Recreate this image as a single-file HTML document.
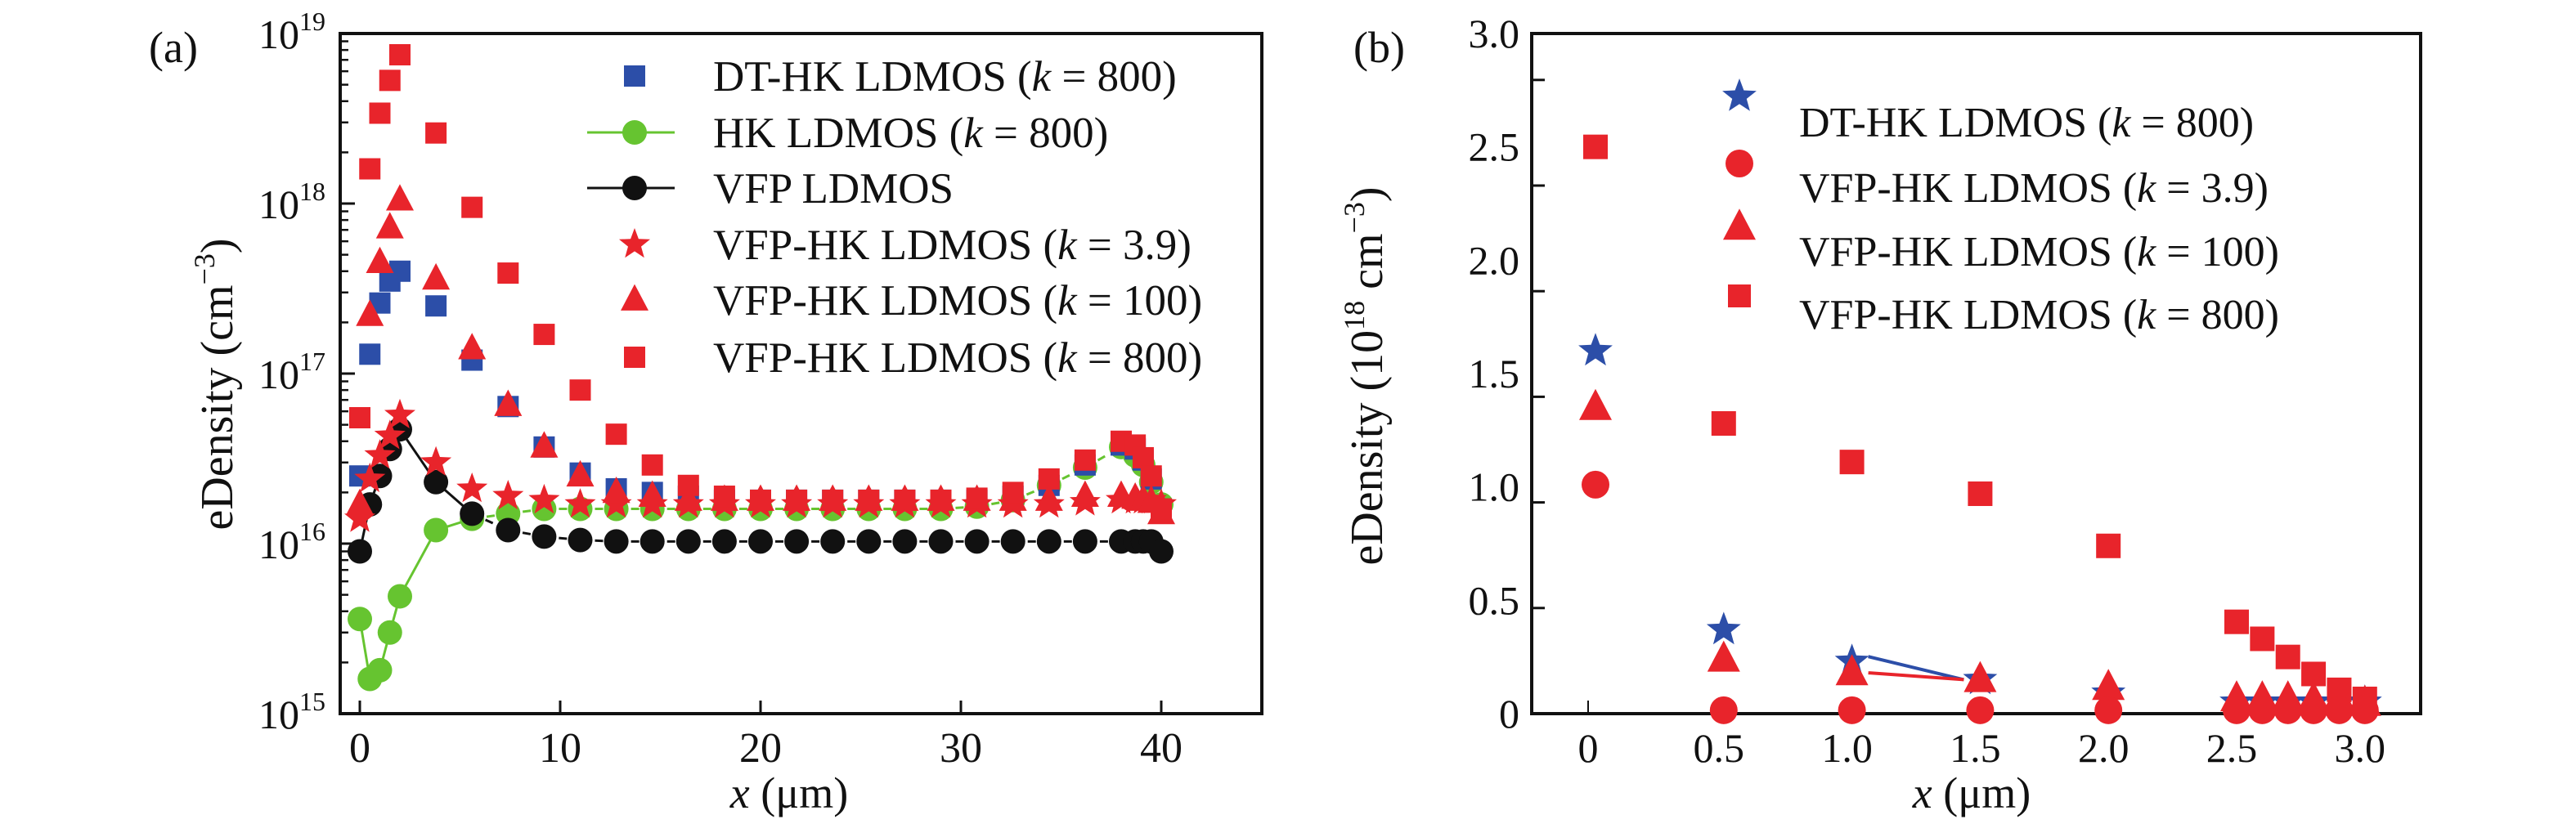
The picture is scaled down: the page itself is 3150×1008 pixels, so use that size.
<!DOCTYPE html>
<html><head><meta charset="utf-8"><style>
html,body{margin:0;padding:0;background:#fff;}
svg{display:block;font-family:"Liberation Serif",serif;}
</style></head><body>
<svg id="fig" width="3150" height="1008" viewBox="0 0 3150 1008" xmlns="http://www.w3.org/2000/svg">
<g id="pa"></g>
<g id="pb"></g>
</svg>
<script>
// ---------- Panel (a) data ----------
const aX = [0,0.5,1,1.5,2,3.8,5.6,7.4,9.2,11,12.8,14.6,16.4,18.2,20,21.8,23.6,25.4,27.2,29,30.8,32.6,34.4,36.2,38,38.7,39.1,39.5,40];
const aDT = [2.5e16,1.3e17,2.6e17,3.5e17,4.0e17,2.5e17,1.2e17,6.4e16,3.7e16,2.6e16,2.1e16,2.0e16,1.9e16,1.8e16,1.8e16,1.8e16,1.8e16,1.8e16,1.8e16,1.8e16,1.8e16,1.9e16,2.2e16,2.9e16,3.8e16,3.6e16,3.1e16,2.4e16,1.6e16];
const aHK = [3.6e15,1.6e15,1.8e15,3.0e15,4.9e15,1.2e16,1.4e16,1.5e16,1.6e16,1.6e16,1.6e16,1.6e16,1.6e16,1.6e16,1.6e16,1.6e16,1.6e16,1.6e16,1.6e16,1.6e16,1.65e16,1.8e16,2.2e16,2.8e16,3.7e16,3.3e16,2.9e16,2.3e16,1.7e16];
const aVFP = [9e15,1.7e16,2.5e16,3.6e16,4.7e16,2.3e16,1.5e16,1.2e16,1.1e16,1.05e16,1.03e16,1.03e16,1.03e16,1.03e16,1.03e16,1.03e16,1.03e16,1.03e16,1.03e16,1.03e16,1.03e16,1.03e16,1.03e16,1.03e16,1.03e16,1.03e16,1.03e16,1.03e16,9e15];
const aK39 = [1.4e16,2.4e16,3.3e16,4.3e16,5.7e16,3.0e16,2.1e16,1.9e16,1.8e16,1.7e16,1.7e16,1.7e16,1.7e16,1.7e16,1.7e16,1.7e16,1.7e16,1.7e16,1.7e16,1.7e16,1.7e16,1.7e16,1.7e16,1.75e16,1.8e16,1.8e16,1.8e16,1.8e16,1.7e16];
const aK100 = [1.7e16,2.2e17,4.5e17,7.2e17,1.05e18,3.6e17,1.4e17,6.5e16,3.7e16,2.5e16,2.0e16,1.9e16,1.8e16,1.8e16,1.8e16,1.8e16,1.8e16,1.8e16,1.8e16,1.8e16,1.8e16,1.8e16,1.8e16,1.9e16,1.9e16,1.85e16,1.8e16,1.75e16,1.5e16];
const aK800 = [5.5e16,1.6e18,3.4e18,5.3e18,7.5e18,2.6e18,9.5e17,3.9e17,1.7e17,8e16,4.4e16,2.9e16,2.2e16,1.9e16,1.8e16,1.8e16,1.8e16,1.8e16,1.8e16,1.8e16,1.85e16,2.0e16,2.4e16,3.1e16,4.0e16,3.8e16,3.2e16,2.5e16,1.6e16];
const aXTicks = [0,10,20,30,40];
const aYExp = [15,16,17,18,19];
// ---------- Panel (b) data ----------
const bX = [0,0.5,1.0,1.5,2.0,2.5,2.6,2.7,2.8,2.9,3.0];
const bDT = [1.60,0.37,0.23,0.15,0.09,0.05,0.05,0.05,0.05,0.05,0.05];
const bK39 = [1.01,0.015,0.015,0.015,0.015,0.015,0.015,0.015,0.015,0.015,0.015];
const bK100 = [1.35,0.24,0.18,0.15,0.115,0.065,0.065,0.065,0.06,0.05,0.045];
const bK800 = [2.5,1.28,1.11,0.97,0.74,0.405,0.33,0.25,0.175,0.105,0.065];
const bXTicks = ["0","0.5","1.0","1.5","2.0","2.5","3.0"];
const bYTicks = ["0","0.5","1.0","1.5","2.0","2.5","3.0"];

const NS="http://www.w3.org/2000/svg";
const RED="#e8242b", BLUE="#2c4ea8", GREEN="#66c430", BLACK="#111";
function mk(parent,tag,attrs,txt){const e=document.createElementNS(NS,tag);for(const k in attrs)e.setAttribute(k,attrs[k]);if(txt!==undefined)e.textContent=txt;parent.appendChild(e);return e;}
function marker(g,type,x,y,color,s){
  let e;
  if(type==='sq'){e=mk(g,'rect',{x:x-s/2,y:y-s/2,width:s,height:s,fill:color});}
  else if(type==='ci'){e=mk(g,'circle',{cx:x,cy:y,r:s/2,fill:color});}
  else if(type==='tri'){const h=s*0.95;e=mk(g,'polygon',{points:`${x},${y-h*0.6} ${x-s/2},${y+h*0.4} ${x+s/2},${y+h*0.4}`,fill:color});}
  else {let p=[];for(let i=0;i<10;i++){const r=i%2?s*0.21:s/2;const a=-Math.PI/2+i*Math.PI/5;p.push((x+r*Math.cos(a)).toFixed(1)+','+(y+r*Math.sin(a)).toFixed(1));}e=mk(g,'polygon',{points:p.join(' '),fill:color});}
  return e;
}

// ===== Panel A =====
const A=document.getElementById('pa');
const aL=416,aR=1543,aT=41,aB=873;
const ax=v=>440+v*24.5;
const ay=v=>aB-(Math.log10(v)-15)*(aB-aT)/4;
mk(A,'rect',{x:aL,y:aT,width:aR-aL,height:aB-aT,fill:'none',stroke:'#111','stroke-width':4});
aXTicks.forEach(t=>{
  mk(A,'line',{x1:ax(t),x2:ax(t),y1:aB,y2:aB-16,stroke:'#111','stroke-width':3});
  const tx=mk(A,'text',{x:ax(t),y:932,'font-size':52,'text-anchor':'middle',fill:'#111'},t);
  
  
});
aYExp.forEach((e,i)=>{
  const y=ay(Math.pow(10,e));
  mk(A,'line',{x1:aL,x2:aL+18,y1:y,y2:y,stroke:'#111','stroke-width':3});
  const tx=mk(A,'text',{x:398,y:y+18,'font-size':50,'text-anchor':'end',fill:'#111'});
  
  
  tx.appendChild(document.createTextNode('10'));
  mk(tx,'tspan',{'font-size':32,dy:-22},String(e));
  if(i<4){for(let m=2;m<=9;m++){const yy=ay(m*Math.pow(10,e));mk(A,'line',{x1:aL,x2:aL+10,y1:yy,y2:yy,stroke:'#111','stroke-width':2.5});}}
});
// axis titles
let t=mk(A,'text',{x:0,y:0,'font-size':56,'text-anchor':'middle',fill:'#111',transform:'translate(284,470) rotate(-90)'});

t.appendChild(document.createTextNode('eDensity (cm'));mk(t,'tspan',{'font-size':36,dy:-22},'−3');mk(t,'tspan',{dy:22},')');
t=mk(A,'text',{x:965,y:988,'font-size':54,'text-anchor':'middle',fill:'#111'});

mk(t,'tspan',{'font-style':'italic'},'x');t.appendChild(document.createTextNode(' (μm)'));
t=mk(A,'text',{x:182,y:76,'font-size':54,fill:'#111'},'(a)');


function lineA(vals,color,dashFrom,name){
  const g=mk(A,'g',{});
  for(let i=0;i<vals.length-1;i++){
    const l=mk(g,'line',{x1:ax(aX[i]),y1:ay(vals[i]),x2:ax(aX[i+1]),y2:ay(vals[i+1]),stroke:color,'stroke-width':3});
    if(i>=dashFrom)l.setAttribute('stroke-dasharray','10 8');
  }
}
function seriesA(vals,type,color,size,name){
  const g=mk(A,'g',{});
  vals.forEach((v,i)=>{const m=marker(g,type,ax(aX[i]),ay(v),color,size);
    
    });
}
lineA(aHK,GREEN,6,'hk-line');
lineA(aVFP,BLACK,6,'vfp-line');
seriesA(aHK,'ci',GREEN,30,'hk-series');
seriesA(aVFP,'ci',BLACK,30,'vfp-series');
seriesA(aDT,'sq',BLUE,26,'dt-hk-series');
seriesA(aK39,'star',RED,40,'vfp-hk-k3.9-series');
seriesA(aK100,'tri',RED,34,'vfp-hk-k100-series');
seriesA(aK800,'sq',RED,26,'vfp-hk-k800-series');
// legend a
const legA=[['sq',BLUE,false,'DT-HK LDMOS (',' = 800)'],['ci',GREEN,true,'HK LDMOS (',' = 800)'],['ci',BLACK,true,'VFP LDMOS',null],['star',RED,false,'VFP-HK LDMOS (',' = 3.9)'],['tri',RED,false,'VFP-HK LDMOS (',' = 100)'],['sq',RED,false,'VFP-HK LDMOS (',' = 800)']];
const legAY=[93,162,230,299,367,437];
const lg=mk(A,'g',{});
legA.forEach((r,i)=>{
  const y=legAY[i];
  const e=mk(lg,'g',{});
  if(r[2])mk(e,'line',{x1:718,x2:825,y1:y,y2:y,stroke:r[1],'stroke-width':3});
  marker(e,r[0],776,y,r[1],r[0]==='sq'?26:(r[0]==='star'?40:(r[0]==='tri'?34:30)));
  const tx=mk(e,'text',{x:872,y:y+18,'font-size':53,fill:'#111'});
  tx.appendChild(document.createTextNode(r[3]));
  if(r[4]){mk(tx,'tspan',{'font-style':'italic'},'k');tx.appendChild(document.createTextNode(r[4]));}
});

// ===== Panel B =====
const B=document.getElementById('pb');
const bL=1873,bR=2960,bT=41,bB=873;
const bx=v=>1951+v*313.6;
const by=v=>bB-v*(bB-bT)/3;
mk(B,'rect',{x:bL,y:bT,width:bR-bL,height:bB-bT,fill:'none',stroke:'#111','stroke-width':4});
bXTicks.forEach((s,i)=>{
  const v=parseFloat(s);
  if(i===0)mk(B,'line',{x1:1942,x2:1942,y1:bB,y2:bB-16,stroke:'#111','stroke-width':2});
  const tx=mk(B,'text',{x:i===0?1942:bx(v)-6,y:932,'font-size':50,'text-anchor':'middle',fill:'#111'},s);
  
  
});
for(let k=1;k<=6;k++){const y=bB-k*129.2;mk(B,'line',{x1:bL,x2:bL+16,y1:y,y2:y,stroke:'#111','stroke-width':3});}
bYTicks.forEach(s=>{
  const tx=mk(B,'text',{x:1858,y:by(parseFloat(s))+17,'font-size':50,'text-anchor':'end',fill:'#111'},s);
  
  
});
t=mk(B,'text',{x:0,y:0,'font-size':56,'text-anchor':'middle',fill:'#111',transform:'translate(1690,460) rotate(-90)'});

t.appendChild(document.createTextNode('eDensity (10'));mk(t,'tspan',{'font-size':36,dy:-22},'18');mk(t,'tspan',{dy:22},' cm');mk(t,'tspan',{'font-size':36,dy:-22},'−3');mk(t,'tspan',{dy:22},')');
t=mk(B,'text',{x:2411,y:988,'font-size':54,'text-anchor':'middle',fill:'#111'});

mk(t,'tspan',{'font-style':'italic'},'x');t.appendChild(document.createTextNode(' (μm)'));
t=mk(B,'text',{x:1655,y:76,'font-size':54,fill:'#111'},'(b)');


mk(B,'line',{x1:bx(1.0)+20,y1:by(bDT[2])-6,x2:bx(1.5)-20,y2:by(bDT[3]),stroke:BLUE,'stroke-width':4});
mk(B,'line',{x1:bx(1.0)+20,y1:by(bK100[2]),x2:bx(1.5)-20,y2:by(bK100[3]),stroke:RED,'stroke-width':4});
function seriesB(vals,type,color,size,name){
  const g=mk(B,'g',{});
  vals.forEach((v,i)=>{const m=marker(g,type,bx(bX[i]),by(v),color,size);
    
    });
}
seriesB(bDT,'star',BLUE,44,'b-dt-hk-series');
seriesB(bK800,'sq',RED,30,'b-vfp-hk-k800-series');
seriesB(bK100,'tri',RED,40,'b-vfp-hk-k100-series');
seriesB(bK39,'ci',RED,34,'b-vfp-hk-k3.9-series');
const legB=[['star',BLUE,'DT-HK LDMOS (',' = 800)'],['ci',RED,'VFP-HK LDMOS (',' = 3.9)'],['tri',RED,'VFP-HK LDMOS (',' = 100)'],['sq',RED,'VFP-HK LDMOS (',' = 800)']];
const legBM=[118,200,278,362], legBT=[149,229,307,384];
const lb=mk(B,'g',{});
legB.forEach((r,i)=>{
  const e=mk(lb,'g',{});
  marker(e,r[0],2127,legBM[i],r[1],r[0]==='star'?44:(r[0]==='sq'?28:(r[0]==='tri'?40:34)));
  const tx=mk(e,'text',{x:2200,y:legBT[i]+18,'font-size':52,fill:'#111'});
  tx.appendChild(document.createTextNode(r[2]));
  mk(tx,'tspan',{'font-style':'italic'},'k');tx.appendChild(document.createTextNode(r[3]));
});
</script>
</body></html>
